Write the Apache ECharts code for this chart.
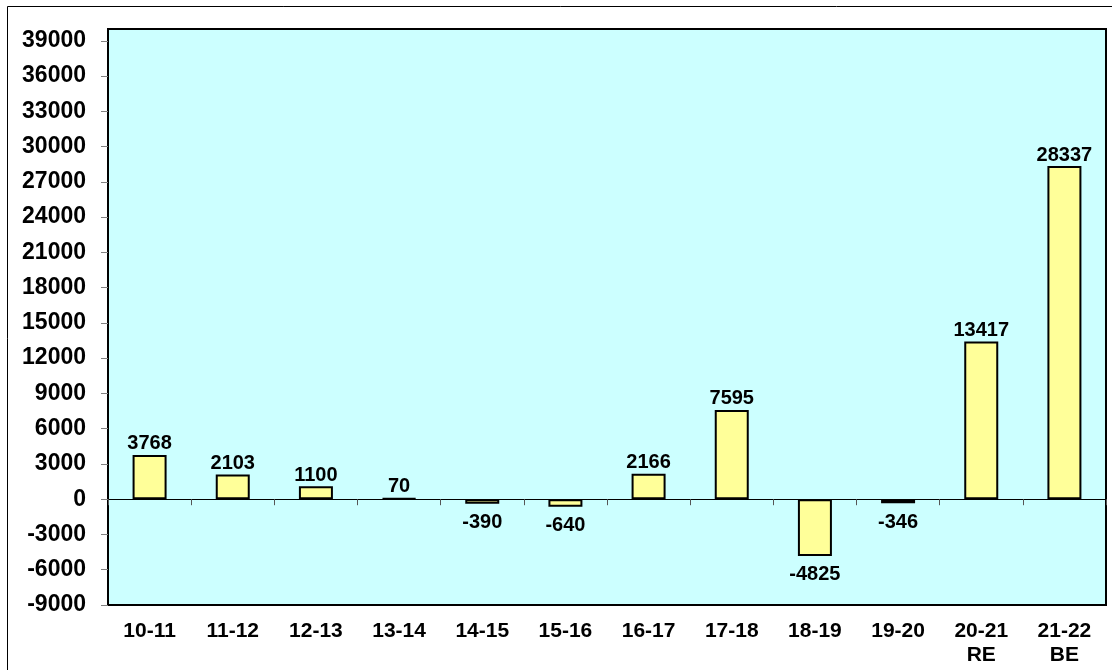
<!DOCTYPE html>
<html>
<head>
<meta charset="utf-8">
<script src="https://cdn.jsdelivr.net/npm/echarts@6/dist/echarts.min.js"></script>
<style>
  html, body { margin: 0; padding: 0; background: #fff; }
  #chart { width: 1112px; height: 670px; }
</style>
</head>
<body>
<div id="chart"></div>
<script>
// Year-wise figures; the last two are revised and budget estimates
const categories = ['10-11', '11-12', '12-13', '13-14', '14-15', '15-16', '16-17', '17-18', '18-19', '19-20', '20-21\nRE', '21-22\nBE'];
const values = [3768, 2103, 1100, 70, -390, -640, 2166, 7595, -4825, -346, 13417, 28337];

const FONT = '"Liberation Sans", Arial, sans-serif';

const chart = echarts.init(document.getElementById('chart'), null, { renderer: 'canvas' });

// Positive values are labelled above the bar, negative ones below it
const barData = values.map(v => ({
  value: v,
  label: { position: v >= 0 ? 'top' : 'bottom', distance: v >= 0 ? 1 : 9 }
}));

chart.setOption({
  animation: false,
  backgroundColor: '#ffffff',
  graphic: [{
    type: 'rect',
    shape: { x: 7.5, y: 6.5, width: 1300, height: 1000 },
    style: { fill: 'none', stroke: '#000', lineWidth: 1 },
    silent: true
  }],
  grid: {
    left: 108, right: 6, top: 29, bottom: 65,
    show: true,
    backgroundColor: '#CCFFFF',
    borderColor: '#000',
    borderWidth: 2
  },
  xAxis: [
    {
      // category labels along the bottom of the plot
      type: 'category',
      data: categories,
      position: 'bottom',
      axisLine: { show: false, onZero: false },
      axisTick: { show: false },
      axisLabel: {
        margin: 14,
        fontFamily: FONT,
        fontWeight: 'bold',
        fontSize: 21,
        color: '#000',
        lineHeight: 24,
        interval: 0
      }
    },
    {
      // zero baseline with its tick marks
      type: 'category',
      data: categories,
      position: 'top',
      axisLine: { show: true, onZero: true, lineStyle: { color: '#000', width: 1 } },
      axisTick: { show: true, inside: true, length: 6, lineStyle: { color: '#555' } },
      axisLabel: { show: false }
    }
  ],
  yAxis: {
    type: 'value',
    min: -9000,
    max: 40000,
    interval: 3000,
    axisLine: { show: true, lineStyle: { color: '#000', width: 2 } },
    axisTick: { show: true, length: 7, lineStyle: { color: '#808080' } },
    splitLine: { show: false },
    axisLabel: {
      showMaxLabel: false,
      margin: 22,
      fontFamily: FONT,
      fontWeight: 'bold',
      fontSize: 23,
      color: '#000',
      formatter: v => String(v)
    }
  },
  series: [{
    type: 'bar',
    xAxisIndex: 0,
    data: barData,
    barWidth: 34,
    itemStyle: { color: '#FFFF99', borderColor: '#000', borderWidth: 2 },
    label: {
      show: true,
      fontFamily: FONT,
      fontWeight: 'bold',
      fontSize: 20,
      color: '#000'
    }
  }]
});
</script>
</body>
</html>
